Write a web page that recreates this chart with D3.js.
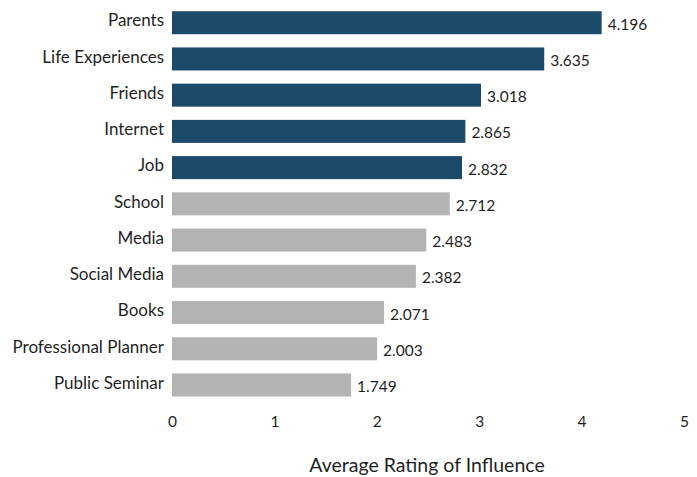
<!DOCTYPE html>
<html>
<head>
<meta charset="utf-8">
<script src="https://cdn.jsdelivr.net/npm/d3@7"></script>
<style>
  html, body { margin: 0; padding: 0; background: #fff; }
  svg { display: block; font-family: Lato, "Open Sans", sans-serif; }
</style>
</head>
<body>
<svg id="chart" width="697" height="477"></svg>
<script>
// Sources of influence, ordered top to bottom
const categories = ["Parents", "Life Experiences", "Friends", "Internet", "Job", "School",
  "Media", "Social Media", "Books", "Professional Planner", "Public Seminar"];
const ratings = [4.196, 3.635, 3.018, 2.865, 2.832, 2.712, 2.483, 2.382, 2.071, 2.003, 1.749];
// The five highest sources are highlighted
const highlighted = ["Parents", "Life Experiences", "Friends", "Internet", "Job"];
const tickValues = [0, 1, 2, 3, 4, 5];
const axisTitle = "Average Rating of Influence";

const svg = d3.select("#chart");
const textColor = "#1f1f1f";

const x = d3.scaleLinear().domain([0, 5]).range([172, 684]);
const y = d3.scaleBand().domain(categories).range([4.6, 403.1])
  .paddingInner(0.365).paddingOuter(0.1825);

const data = categories.map((c, i) => ({ name: c, value: ratings[i] }));

// Bars
svg.append("g").selectAll("rect").data(data).join("rect")
  .attr("x", x(0))
  .attr("y", d => y(d.name))
  .attr("width", d => x(d.value) - x(0))
  .attr("height", y.bandwidth())
  .attr("fill", d => highlighted.includes(d.name) ? "#1b4a6b" : "#b3b3b3");

// Value labels at the bar ends
svg.append("g").selectAll("text").data(data).join("text")
  .attr("x", d => x(d.value) + 6)
  .attr("y", d => y(d.name) + y.bandwidth() / 2 + 7)
  .attr("font-size", 15.5)
  .attr("fill", textColor)
  .text(d => d.value.toFixed(3));

// Category axis (labels only)
const yAxis = svg.append("g")
  .attr("transform", `translate(${x(0)},0)`)
  .call(d3.axisLeft(y).tickSize(0).tickPadding(8));
yAxis.select(".domain").remove();
yAxis.selectAll("text")
  .attr("font-family", "Lato, 'Open Sans', sans-serif")
  .attr("font-size", 17)
  .attr("fill", textColor)
  .attr("dy", "0.22em");

// Value axis (labels only)
const xAxis = svg.append("g")
  .attr("transform", "translate(0,413)")
  .call(d3.axisBottom(x).tickValues(tickValues).tickFormat(d3.format("d")).tickSize(0).tickPadding(3));
xAxis.select(".domain").remove();
xAxis.selectAll("text")
  .attr("font-family", "Lato, 'Open Sans', sans-serif")
  .attr("font-size", 15.5)
  .attr("fill", textColor);

// Axis title
svg.append("text")
  .attr("x", 427)
  .attr("y", 472)
  .attr("text-anchor", "middle")
  .attr("font-size", 19.5)
  .attr("fill", textColor)
  .text(axisTitle);
</script>
</body>
</html>
